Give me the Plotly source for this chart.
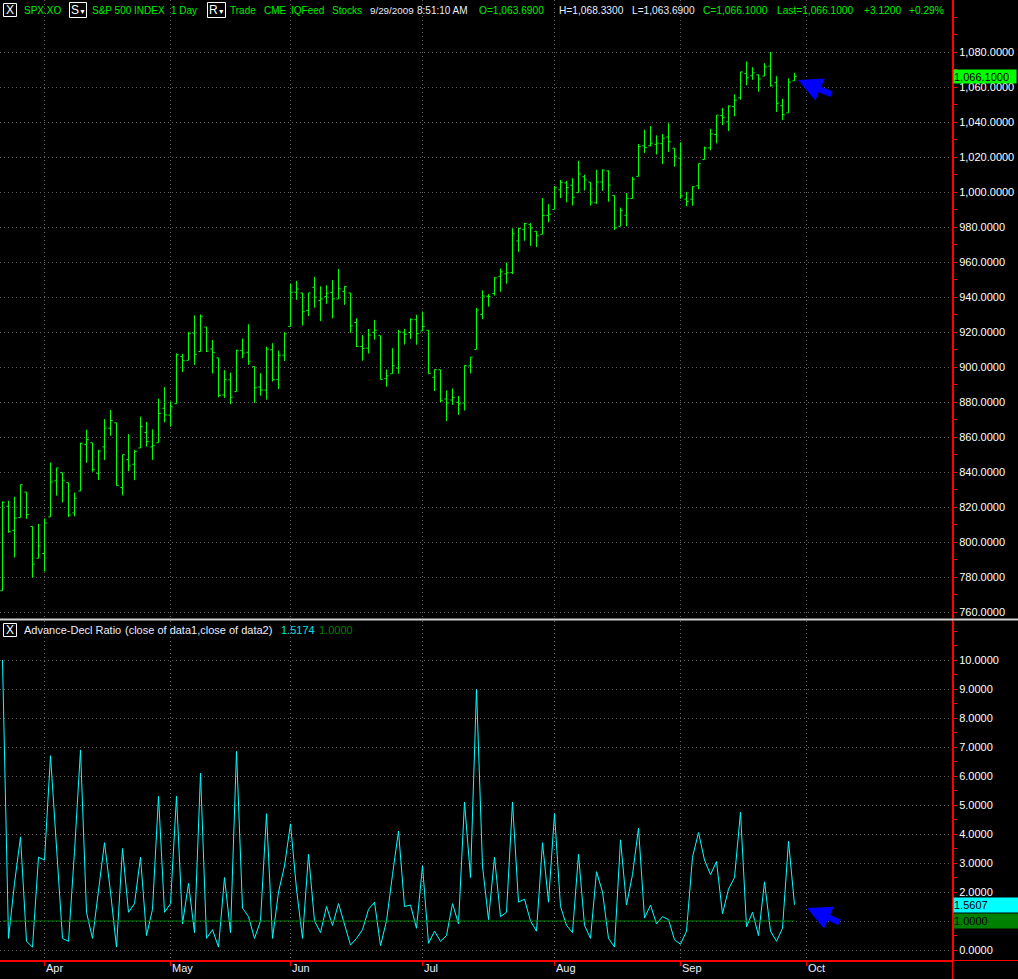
import numpy as np
import plotly.graph_objects as go

# ---------------- data ----------------
dates = [
    "2009-03-23", "2009-03-24", "2009-03-25", "2009-03-26", "2009-03-27", "2009-03-30", "2009-03-31",
    "2009-04-01", "2009-04-02", "2009-04-03", "2009-04-06", "2009-04-07", "2009-04-08", "2009-04-09",
    "2009-04-13", "2009-04-14", "2009-04-15", "2009-04-16", "2009-04-17", "2009-04-20", "2009-04-21",
    "2009-04-22", "2009-04-23", "2009-04-24", "2009-04-27", "2009-04-28", "2009-04-29", "2009-04-30",
    "2009-05-01", "2009-05-04", "2009-05-05", "2009-05-06", "2009-05-07", "2009-05-08", "2009-05-11",
    "2009-05-12", "2009-05-13", "2009-05-14", "2009-05-15", "2009-05-18", "2009-05-19", "2009-05-20",
    "2009-05-21", "2009-05-22", "2009-05-26", "2009-05-27", "2009-05-28", "2009-05-29",
    "2009-06-01", "2009-06-02", "2009-06-03", "2009-06-04", "2009-06-05", "2009-06-08", "2009-06-09",
    "2009-06-10", "2009-06-11", "2009-06-12", "2009-06-15", "2009-06-16", "2009-06-17", "2009-06-18",
    "2009-06-19", "2009-06-22", "2009-06-23", "2009-06-24", "2009-06-25", "2009-06-26", "2009-06-29",
    "2009-06-30",
    "2009-07-01", "2009-07-02", "2009-07-06", "2009-07-07", "2009-07-08", "2009-07-09", "2009-07-10",
    "2009-07-13", "2009-07-14", "2009-07-15", "2009-07-16", "2009-07-17", "2009-07-20", "2009-07-21",
    "2009-07-22", "2009-07-23", "2009-07-24", "2009-07-27", "2009-07-28", "2009-07-29", "2009-07-30",
    "2009-07-31",
    "2009-08-03", "2009-08-04", "2009-08-05", "2009-08-06", "2009-08-07", "2009-08-10", "2009-08-11",
    "2009-08-12", "2009-08-13", "2009-08-14", "2009-08-17", "2009-08-18", "2009-08-19", "2009-08-20",
    "2009-08-21", "2009-08-24", "2009-08-25", "2009-08-26", "2009-08-27", "2009-08-28", "2009-08-31",
    "2009-09-01", "2009-09-02", "2009-09-03", "2009-09-04", "2009-09-08", "2009-09-09", "2009-09-10",
    "2009-09-11", "2009-09-14", "2009-09-15", "2009-09-16", "2009-09-17", "2009-09-18", "2009-09-21",
    "2009-09-22", "2009-09-23", "2009-09-24", "2009-09-25", "2009-09-28", "2009-09-29",
]
market_holidays = ["2009-04-10", "2009-05-25", "2009-07-03", "2009-09-07"]

opens = [
    772.3, 820.6, 806.8, 814.1, 828.7, 809.1, 790.9,
    793.6, 814.5, 835.1, 839.8, 834.1, 816.8, 829.3, 855.9, 856.9, 839.4, 854.5, 865.2, 868.3, 831.3,
    847.3, 844.6, 853.9, 862.8, 854.5, 856.9, 876.6,
    872.7, 879.2, 906.1, 904.0, 919.6, 909.0, 923.0, 910.5, 905.4, 884.2, 892.8, 886.1, 909.7, 908.6,
    900.4, 888.7, 887.0, 910.0, 893.0, 907.0,
    923.3, 942.9, 942.5, 932.5, 945.7, 938.1, 940.4, 942.7, 939.0, 943.4, 942.5, 925.6, 911.9, 910.9,
    920.0, 918.1, 893.5, 896.3, 899.5, 920.0, 919.9, 927.2,
    920.8, 921.2, 894.3, 898.6, 881.9, 881.3, 880.0, 879.6, 900.8, 910.2, 930.2, 940.6, 942.1, 952.0,
    953.4, 954.1, 972.2, 978.6, 981.5, 977.7, 976.0, 986.8,
    990.2, 1001.4, 1005.4, 1004.1, 999.8, 1008.9, 1005.8, 994.0, 1005.9, 1012.2, 998.2, 980.6, 986.9,
    996.4, 1009.1, 1026.6, 1026.6, 1027.4, 1027.8, 1031.6, 1025.2,
    1019.5, 996.1, 996.1, 1003.8, 1018.7, 1025.4, 1033.0, 1043.9, 1040.2, 1049.0, 1054.0, 1067.9, 1066.6,
    1067.1, 1066.4, 1072.1, 1062.6, 1049.5, 1045.4, 1063.69,
]
highs = [
    823.4, 823.7, 826.0, 833.0, 828.7, 809.1, 810.5,
    813.6, 845.6, 842.5, 839.8, 834.1, 828.4, 856.9, 864.3, 856.9, 852.9, 870.4, 875.6, 868.3, 850.1,
    861.8, 852.9, 871.8, 868.8, 864.5, 882.1, 888.7,
    880.5, 907.9, 907.7, 920.3, 929.6, 930.2, 923.0, 915.6, 905.4, 898.4, 897.0, 910.0, 916.4, 924.6,
    900.4, 896.7, 911.8, 913.8, 909.5, 920.0,
    947.8, 949.4, 942.5, 942.5, 951.7, 946.3, 946.9, 949.8, 956.2, 946.3, 942.5, 928.0, 918.4, 921.9,
    927.1, 918.1, 898.7, 910.9, 921.4, 922.0, 928.0, 930.0,
    931.9, 921.2, 898.7, 898.6, 886.8, 887.9, 883.6, 901.1, 905.8, 934.0, 944.0, 941.9, 951.6, 956.5,
    959.8, 979.4, 979.8, 982.5, 982.4, 977.8, 996.7, 993.2,
    1003.6, 1007.1, 1006.6, 1008.0, 1018.0, 1010.1, 1005.8, 1012.8, 1013.1, 1012.6, 998.2, 991.2, 999.6,
    1008.9, 1027.6, 1035.8, 1037.8, 1032.5, 1033.3, 1039.5, 1025.2,
    1028.5, 1000.3, 1003.4, 1016.5, 1026.1, 1036.3, 1044.1, 1048.2, 1049.7, 1056.0, 1068.8, 1074.8, 1071.5,
    1067.3, 1073.8, 1080.2, 1066.3, 1053.5, 1065.1, 1068.33,
]
lows = [
    772.3, 805.5, 791.4, 814.1, 813.4, 779.8, 790.9,
    783.3, 814.5, 826.7, 822.8, 814.5, 814.8, 829.3, 845.4, 840.3, 835.6, 847.0, 860.9, 832.4, 826.8,
    840.6, 835.5, 853.9, 854.7, 847.1, 856.9, 868.5,
    866.1, 879.2, 897.3, 904.0, 901.4, 909.0, 908.7, 896.5, 882.8, 882.5, 878.9, 886.1, 905.2, 901.4,
    879.6, 883.8, 881.5, 891.9, 887.6, 903.6,
    923.3, 938.5, 923.9, 929.3, 934.1, 926.4, 936.2, 928.0, 939.0, 935.7, 919.7, 911.6, 903.8, 907.9,
    915.8, 893.0, 888.9, 896.3, 896.3, 913.0, 916.2, 912.9,
    920.8, 896.4, 886.4, 879.9, 869.3, 878.5, 872.8, 875.3, 896.5, 910.2, 927.5, 934.7, 941.0, 943.2,
    947.8, 953.3, 966.0, 972.3, 969.4, 968.7, 976.0, 982.9,
    990.2, 996.7, 994.3, 992.5, 999.8, 1001.0, 992.4, 993.4, 1000.8, 994.6, 978.5, 980.6, 980.6,
    996.4, 1009.1, 1022.5, 1026.2, 1021.6, 1016.2, 1023.1, 1014.6,
    996.3, 992.0, 992.3, 1001.7, 1018.7, 1024.0, 1028.0, 1038.4, 1035.0, 1043.4, 1052.9, 1061.2, 1064.3,
    1057.5, 1066.4, 1060.4, 1045.9, 1041.2, 1045.4, 1063.69,
]
closes = [
    822.9, 806.1, 813.9, 832.9, 815.9, 787.5, 797.9,
    811.1, 834.4, 842.5, 835.5, 815.6, 825.2, 856.6, 858.7, 841.5, 852.1, 865.3, 869.6, 832.4, 850.1,
    843.6, 851.9, 866.2, 857.5, 855.2, 873.6, 872.8,
    877.5, 907.2, 903.8, 919.5, 907.4, 929.2, 909.2, 908.4, 883.9, 893.1, 882.9, 909.7, 908.1, 903.5,
    888.3, 887.0, 910.3, 893.1, 906.8, 919.1,
    942.9, 944.7, 931.8, 942.5, 940.1, 939.1, 942.4, 939.2, 944.9, 946.2, 923.7, 912.0, 910.7, 918.4,
    921.2, 893.0, 895.1, 900.9, 920.3, 918.9, 927.2, 919.3,
    923.3, 896.4, 898.7, 881.0, 879.6, 882.7, 879.1, 901.1, 905.8, 932.7, 940.7, 940.4, 951.1, 954.6,
    954.1, 976.3, 979.3, 982.2, 979.6, 975.2, 986.8, 987.5,
    1002.6, 1005.7, 1002.7, 997.1, 1010.5, 1007.1, 994.4, 1005.8, 1012.7, 1004.1, 979.7, 989.7, 996.5,
    1007.4, 1026.1, 1025.6, 1028.0, 1028.1, 1031.0, 1028.9, 1020.6,
    998.0, 994.8, 1003.2, 1016.4, 1025.4, 1033.4, 1044.1, 1042.7, 1049.3, 1052.6, 1068.8, 1065.5, 1068.3,
    1064.7, 1071.7, 1060.9, 1050.8, 1044.4, 1062.98, 1066.10,
]

adv_decl_ratio = [
    10.0, 0.4, 2.3, 3.9, 0.3, 0.1, 3.2, 3.1, 6.7, 3.6,
    0.4, 0.3, 3.4, 6.9, 1.3, 0.4, 2.0, 3.7, 2.0, 0.1,
    3.5, 1.3, 1.6, 3.2, 0.5, 1.4, 5.3, 1.3, 1.6, 5.3,
    0.9, 2.3, 0.6, 6.1, 0.4, 0.7, 0.1, 2.5, 0.6, 6.85,
    1.45, 1.15, 0.4, 1.0, 4.7, 0.4, 2.0, 2.9, 4.35, 2.1,
    0.4, 3.3, 1.0, 0.6, 1.5, 0.85, 1.6, 0.9, 0.17, 0.4,
    0.7, 1.4, 1.65, 0.15, 1.0, 2.6, 4.1, 1.5, 1.55, 0.75,
    2.9, 0.23, 0.65, 0.3, 0.5, 1.6, 0.9, 5.1, 2.5, 9.0,
    2.9, 1.05, 3.2, 1.15, 1.3, 5.1, 1.65, 1.75, 1.0, 0.65,
    3.7, 1.65, 4.7, 1.5, 0.85, 0.6, 3.3, 0.85, 0.4, 2.7,
    2.0, 0.4, 0.1, 3.8, 1.55, 2.6, 4.2, 1.1, 1.55, 0.9,
    1.15, 1.05, 0.35, 0.2, 0.65, 3.2, 4.05, 3.1, 2.6, 3.05,
    1.25, 2.1, 2.5, 4.75, 0.8, 1.3, 0.5, 2.35, 0.65, 0.3,
    0.75, 3.75, 1.5607,
]
baseline_value = 1.0
header_ratio_value = 1.5174

month_labels = ["Apr", "May", "Jun", "Jul", "Aug", "Sep", "Oct"]
month_starts = ["2009-04-01", "2009-05-01", "2009-06-01", "2009-07-01", "2009-08-03", "2009-09-01", "2009-10-01"]

price_ticks = list(range(760, 1081, 20))
ratio_ticks = list(range(0, 11))

# ---------------- geometry helpers ----------------
W, H = 1018, 979
ML, MR, MT, MB = 0, 65, 0, 18
PW = W - ML - MR
PH = H - MT - MB


def pxx(x):
    return x / PW


def pxy(y):
    return (PH - y) / PH


FONT = "Liberation Sans, Arial, sans-serif"
GREEN_TXT = "#00ee00"
WHITE_TXT = "#e8ecff"
RED = "#ff0000"
GRID = "#606060"

start = np.datetime64(dates[0])
xi = np.busday_count(start, np.array(dates, dtype="datetime64[D]"), holidays=market_holidays)
month_x = np.busday_count(start, np.array(month_starts, dtype="datetime64[D]"), holidays=market_holidays)
n = len(dates)
baseline = [baseline_value] * n

bar_px = 6.0
x_lo = -5.0 / 12.0  # puts bar centres on half pixels for crisp 1px lines
x_range = [x_lo, x_lo + PW / bar_px]

fig = go.Figure()
fig.add_trace(go.Ohlc(
    x=xi, open=opens, high=highs, low=lows, close=closes,
    increasing=dict(line=dict(color="#00ff00", width=1)),
    decreasing=dict(line=dict(color="#00ff00", width=1)),
    tickwidth=0.36, xaxis="x", yaxis="y", hoverinfo="skip", showlegend=False,
))
fig.add_trace(go.Scatter(
    x=xi, y=adv_decl_ratio, mode="lines", line=dict(color="#00ffff", width=1),
    xaxis="x2", yaxis="y2", hoverinfo="skip", showlegend=False,
))
fig.add_trace(go.Scatter(
    x=xi, y=baseline, mode="lines", line=dict(color="#008000", width=1.2),
    xaxis="x2", yaxis="y2", hoverinfo="skip", showlegend=False,
))

top_dom = [pxy(618), 1.0]
bot_dom = [0.0, pxy(621)]
p_top = 1080 + 52.3 / 1.75
p_bot = 760 - (618 - 612.3) / 1.75
r_top = 10 + (660 - 621) / 29.0
r_bot = -(961 - 950) / 29.0

xcommon = dict(range=x_range, tickmode="array", tickvals=list(month_x), showticklabels=False,
               showgrid=True, gridcolor=GRID, griddash="1px,3px", gridwidth=1, zeroline=False,
               fixedrange=True)
ycommon = dict(side="right", showgrid=True, gridcolor=GRID, griddash="1px,3px", gridwidth=1,
               zeroline=False, showline=True, linecolor=RED, linewidth=1, fixedrange=True,
               ticks="outside", ticklen=3, tickcolor=RED, tickwidth=1,
               tickfont=dict(family=FONT, size=11, color="#ffffff"))

ratio_text = [("" if v == baseline_value else f"{v:.4f}") for v in ratio_ticks]

fig.update_layout(
    width=W, height=H,
    margin=dict(l=ML, r=MR, t=MT, b=MB),
    paper_bgcolor="#000000", plot_bgcolor="#000000",
    showlegend=False, hovermode=False,
    xaxis=dict(**xcommon, anchor="y", domain=[0, 1], ticks="", showline=False,
               rangeslider=dict(visible=False)),
    yaxis=dict(**ycommon, anchor="x", domain=top_dom, range=[p_bot, p_top],
               tickmode="array", tickvals=price_ticks, tickformat=",.4f",
               minor=dict(ticks="outside", ticklen=3, tickcolor=RED, dtick=10, tick0=770, showgrid=False)),
    xaxis2=dict(**xcommon, anchor="y2", domain=[0, 1], ticks="outside", ticklen=4, tickcolor=RED,
                showline=True, linecolor=RED, linewidth=1),
    yaxis2=dict(**ycommon, anchor="x2", domain=bot_dom, range=[r_bot, r_top],
                tickmode="array", tickvals=ratio_ticks, ticktext=ratio_text,
                minor=dict(ticks="outside", ticklen=3, tickcolor=RED, dtick=0.5, tick0=0.5, showgrid=False)),
)

shapes = []
shapes.append(dict(type="line", xref="paper", yref="paper", x0=pxx(952.5), x1=pxx(952.5), y0=pxy(979), y1=pxy(0),
                   line=dict(color=RED, width=1)))
shapes.append(dict(type="line", xref="paper", yref="paper", x0=0, x1=pxx(W), y0=pxy(960.5), y1=pxy(960.5),
                   line=dict(color=RED, width=1)))
shapes.append(dict(type="line", xref="paper", yref="paper", x0=0, x1=pxx(W), y0=pxy(619.5), y1=pxy(619.5),
                   line=dict(color="#d0d0d0", width=2)))


def box(x0, x1, y0, y1):
    shapes.append(dict(type="rect", xref="paper", yref="paper", x0=pxx(x0), x1=pxx(x1),
                       y0=pxy(y1), y1=pxy(y0), line=dict(color="#ffffff", width=1),
                       fillcolor="rgba(0,0,0,0)"))


box(3.5, 16.5, 3.5, 16.5)
box(69.5, 86.5, 2.5, 17.5)
box(207.5, 225.5, 2.5, 17.5)
box(3.5, 16.5, 623.5, 636.5)

annotations = []


def txt(x, y, s, color, size=10, anchor="left"):
    annotations.append(dict(x=pxx(x), y=pxy(y), xref="paper", yref="paper", text=s, showarrow=False,
                            xanchor=anchor, yanchor="middle", font=dict(family=FONT, size=size, color=color),
                            borderpad=0))


def fmt(v):
    return f"{v:,.4f}"


chg = closes[-1] - closes[-2]
pct = chg / closes[-2] * 100

txt(10, 10, "X", "#ffffff", 12, "center")
txt(23, 10, "SPX.XO", GREEN_TXT, 10)
txt(78, 10, "S<span style='font-size:7px'>▼</span>", "#ffffff", 12, "center")
txt(91, 10, "S&amp;P 500 INDEX", GREEN_TXT, 10)
txt(170, 10, "1 Day", GREEN_TXT, 10)
txt(216.5, 10, "R<span style='font-size:7px'>▼</span>", "#ffffff", 12, "center")
txt(229, 10, "Trade", GREEN_TXT, 10)
txt(263, 10, "CME", GREEN_TXT, 10)
txt(290, 10, "IQFeed", GREEN_TXT, 10)
txt(331, 10, "Stocks", GREEN_TXT, 10)
txt(369, 10, "9/29/2009", WHITE_TXT, 9.8)
txt(416, 10, "8:51:10 AM", WHITE_TXT, 10)
txt(478, 10, "O=" + fmt(opens[-1]), GREEN_TXT, 10.2)
txt(558, 10, "H=" + fmt(highs[-1]), WHITE_TXT, 10.2)
txt(631, 10, "L=" + fmt(lows[-1]), WHITE_TXT, 10.2)
txt(702, 10, "C=" + fmt(closes[-1]), GREEN_TXT, 10.2)
txt(776, 10, "Last=" + fmt(closes[-1]), GREEN_TXT, 10.2)
txt(863, 10, f"{chg:+.4f}", GREEN_TXT, 10.2)
txt(908, 10, f"{pct:+.2f}%", GREEN_TXT, 10.2)

txt(10, 630, "X", "#ffffff", 12, "center")
txt(23, 630, "Advance-Decl Ratio", WHITE_TXT, 11)
txt(124, 630, "(close of data1,close of data2)", WHITE_TXT, 11)
txt(280, 630, f"{header_ratio_value:.4f}", "#00e0e0", 11)
txt(318, 630, f"{baseline_value:.4f}", "#008000", 11)

# month labels
for lab, mx in zip(month_labels, month_x):
    xp = (mx - x_lo) * bar_px
    txt(xp, 968, lab, WHITE_TXT, 11)

# last value boxes on the right axis
annotations.append(dict(x=pxx(953), y=closes[-1], xref="paper", yref="y", text=fmt(closes[-1]),
                        showarrow=False, xanchor="left", yanchor="middle", align="left",
                        width=62, height=13, bgcolor="#00ff00", borderpad=0,
                        font=dict(family=FONT, size=11, color="#000000")))
annotations.append(dict(x=pxx(953), y=adv_decl_ratio[-1], xref="paper", yref="y2",
                        text=f"{adv_decl_ratio[-1]:.4f}", showarrow=False, xanchor="left", yanchor="middle",
                        align="left", width=64, height=14, bgcolor="#00ffff", borderpad=0,
                        font=dict(family=FONT, size=11, color="#000000")))
annotations.append(dict(x=pxx(953), y=baseline_value, xref="paper", yref="y2",
                        text=f"{baseline_value:.4f}", showarrow=False, xanchor="left", yanchor="middle",
                        align="left", width=64, height=14, bgcolor="#008000", borderpad=0,
                        font=dict(family=FONT, size=11, color="#000000")))

# blue hand-drawn style arrows
annotations.append(dict(x=pxx(798), y=pxy(80), xref="paper", yref="paper", ax=35, ay=15,
                        text="", showarrow=True, arrowhead=2, arrowsize=0.8, arrowwidth=6,
                        arrowcolor="#0000ff"))
annotations.append(dict(x=pxx(807), y=pxy(908), xref="paper", yref="paper", ax=34, ay=15,
                        text="", showarrow=True, arrowhead=2, arrowsize=0.8, arrowwidth=6,
                        arrowcolor="#0000ff"))

fig.update_layout(shapes=shapes, annotations=annotations)
fig.write_html("out.html", config={"displayModeBar": False, "staticPlot": True},
               post_script="document.body.style.margin='0';document.body.style.overflow='hidden';")
